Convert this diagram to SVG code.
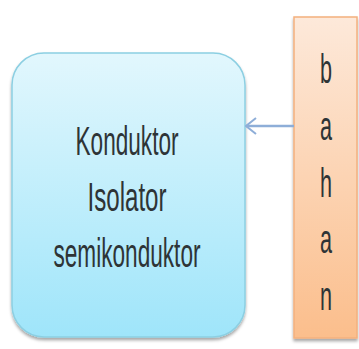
<svg xmlns="http://www.w3.org/2000/svg" width="359" height="349" viewBox="0 0 359 349">
<style>
.t{font-family:"Liberation Sans",Arial,sans-serif;font-size:41px;fill:#2e3436;text-anchor:middle}
.c{stroke:#8eaed8;stroke-width:2.5;fill:none}
</style>
<defs>
<linearGradient id="gb" x1="0" y1="0" x2="0" y2="1"><stop offset="0" stop-color="#e2f7fd"/><stop offset="1" stop-color="#9fe5fa"/></linearGradient>
<linearGradient id="go" x1="0" y1="0" x2="0" y2="1"><stop offset="0" stop-color="#fde9da"/><stop offset="1" stop-color="#fbbe8c"/></linearGradient>
<filter id="sh" x="-10%" y="-10%" width="120%" height="120%"><feDropShadow dx="0" dy="2.5" stdDeviation="1.5" flood-color="#000" flood-opacity="0.35"/></filter>
<marker id="ah" viewBox="0 0 12 20" refX="11" refY="10" markerWidth="12" markerHeight="20" markerUnits="userSpaceOnUse" orient="auto"><path d="M1,2 L11,10 L1,18" fill="none" stroke="#8eaed8" stroke-width="2"/></marker>
</defs>
<g id="materials">
<rect x="12" y="53" width="233" height="284" rx="32" fill="url(#gb)" stroke="#8ccfe2" stroke-width="1.5" filter="url(#sh)"/>
<text class="t" x="127" y="155" textLength="103" lengthAdjust="spacingAndGlyphs">Konduktor</text>
<text class="t" x="127" y="211" textLength="79" lengthAdjust="spacingAndGlyphs">Isolator</text>
<text class="t" x="127" y="267" textLength="147" lengthAdjust="spacingAndGlyphs">semikonduktor</text>
</g>
<g id="bahan">
<rect x="294" y="17" width="63" height="321" fill="url(#go)" stroke="#f4b07e" stroke-width="1.5" filter="url(#sh)"/>
<text class="t" x="326" y="83" textLength="12" lengthAdjust="spacingAndGlyphs">b</text>
<text class="t" x="326" y="140" textLength="12" lengthAdjust="spacingAndGlyphs">a</text>
<text class="t" x="326" y="197" textLength="12" lengthAdjust="spacingAndGlyphs">h</text>
<text class="t" x="326" y="253" textLength="12" lengthAdjust="spacingAndGlyphs">a</text>
<text class="t" x="326" y="310" textLength="12" lengthAdjust="spacingAndGlyphs">n</text>
</g>
<g id="connectors">
<line class="c" x1="294" y1="126" x2="246" y2="126" marker-end="url(#ah)"/>
</g>
</svg>
